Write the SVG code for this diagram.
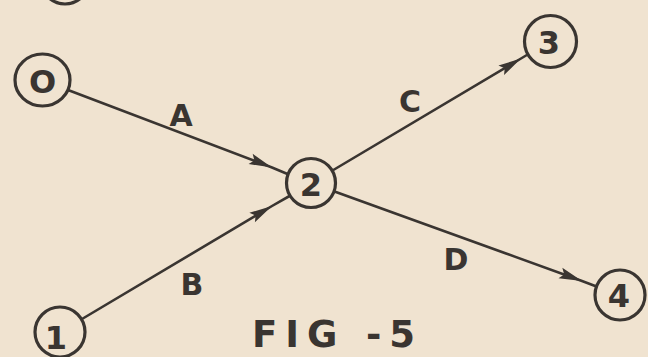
<svg xmlns="http://www.w3.org/2000/svg" width="648" height="357" viewBox="0 0 648 357">
<style>
.node{fill:none;stroke:#3a3531;stroke-width:3.2}
.edge{fill:none;stroke:#3a3531;stroke-width:2.6;marker-mid:url(#dart)}
.num{font-family:"DejaVu Sans","Liberation Sans",sans-serif;font-weight:bold;font-size:32px;fill:#3a3531;text-anchor:middle}
.lbl{font-family:"DejaVu Sans","Liberation Sans",sans-serif;font-weight:bold;font-size:30px;fill:#3a3531;text-anchor:middle}
.cap{font-family:"DejaVu Sans","Liberation Sans",sans-serif;font-weight:bold;font-size:37px;fill:#3a3531}
</style>
<defs>
<marker id="dart" markerUnits="userSpaceOnUse" markerWidth="30" markerHeight="16" viewBox="-25 -8 30 16" refX="0" refY="0" orient="auto">
<path d="M0,0 L-23,-5.5 L-19,0 L-23,5.5 Z" fill="#3a3531"/>
</marker>
</defs>
<rect width="648" height="357" fill="#f0e3d0"/>
<g id="connectors">
<path class="edge" d="M68,90 L272,167.5 L287.5,174"/>
<path class="edge" d="M82,319 L272,206 L289.5,196"/>
<path class="edge" d="M332.5,170.5 L521,58.5 L528.5,54"/>
<path class="edge" d="M334.5,191.5 L582,281 L596.5,286.5"/>
</g>
<g id="node-top">
<circle class="node" cx="65" cy="-20" r="24"/>
</g>
<g id="node-0">
<ellipse class="node" cx="42.5" cy="80" rx="27.5" ry="26"/>
<text class="num" x="42.5" y="93" font-size="31">O</text>
</g>
<g id="node-1">
<circle class="node" cx="60" cy="332" r="25"/>
<text class="num" x="56" y="349" font-size="31">1</text>
</g>
<g id="node-2">
<circle class="node" cx="311" cy="183" r="24.5"/>
<text class="num" x="311" y="195.5">2</text>
</g>
<g id="node-3">
<circle class="node" cx="550.5" cy="41.5" r="26"/>
<text class="num" x="549" y="54">3</text>
</g>
<g id="node-4">
<circle class="node" cx="620" cy="295" r="25"/>
<text class="num" x="619" y="307" font-size="29">4</text>
</g>
<g id="labels">
<text class="lbl" x="181" y="126">A</text>
<text class="lbl" x="192" y="295">B</text>
<text class="lbl" x="410" y="112">C</text>
<text class="lbl" x="456" y="270">D</text>
<text class="cap" x="252" y="347" textLength="163" lengthAdjust="spacing">FIG -5</text>
</g>
</svg>
